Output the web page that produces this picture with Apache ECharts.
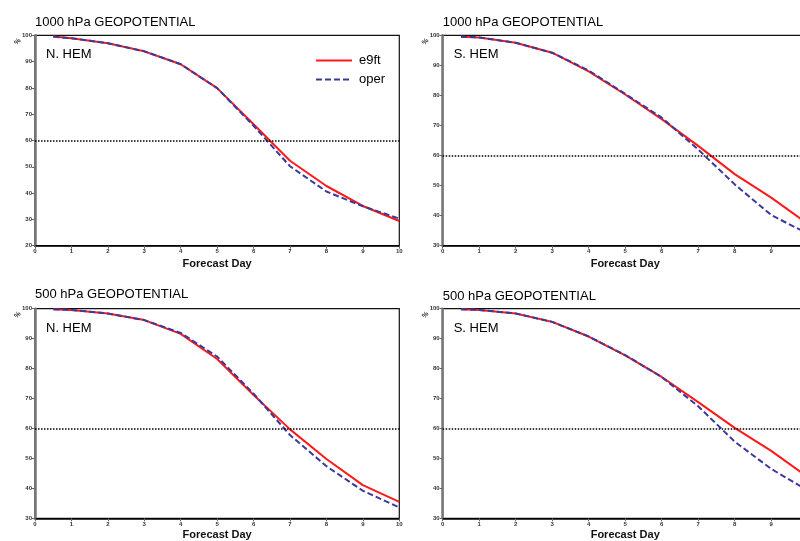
<!DOCTYPE html>
<html><head><meta charset="utf-8">
<script src="https://cdn.jsdelivr.net/npm/echarts@6/dist/echarts.min.js"></script>
<style>html,body{margin:0;padding:0;background:#fff}#c{width:800px;height:541px}</style>
</head><body><div id="c"></div>
<script>
const days = [0.5, 1, 2, 3, 4, 5, 6, 7, 8, 9, 10];
const panelTitles = ['1000 hPa GEOPOTENTIAL', '1000 hPa GEOPOTENTIAL', '500 hPa GEOPOTENTIAL', '500 hPa GEOPOTENTIAL'];
const regionLabels = ['N. HEM', 'S. HEM', 'N. HEM', 'S. HEM'];
const yMins = [20, 30, 30, 30];
const yMax = 100;
const refLevel = 60;
const xAxisName = 'Forecast Day';
const seriesNames = ['e9ft', 'oper'];

const n1000_e9ft = [99.5, 98.9, 97.0, 93.9, 89.0, 79.9, 66.2, 52.3, 42.7, 35.1, 29.4];
const n1000_oper = [99.5, 98.9, 97.0, 93.9, 89.0, 79.9, 65.6, 50.2, 40.6, 35.0, 30.3];
const s1000_e9ft = [99.5, 99.3, 97.5, 94.2, 88.0, 80.3, 72.1, 63.2, 53.8, 46.0, 37.3];
const s1000_oper = [99.5, 99.3, 97.5, 94.2, 88.3, 80.5, 72.6, 62.0, 50.4, 40.2, 34.0];
const n500_e9ft = [99.8, 99.6, 98.4, 96.2, 91.6, 83.2, 71.2, 59.7, 49.8, 41.1, 35.5];
const n500_oper = [99.8, 99.6, 98.4, 96.2, 91.9, 84.0, 71.6, 57.8, 47.4, 39.2, 33.6];
const s500_e9ft = [99.8, 99.6, 98.4, 95.6, 90.7, 84.4, 77.2, 68.8, 60.2, 52.5, 43.8];
const s500_oper = [99.8, 99.6, 98.4, 95.6, 90.7, 84.5, 77.2, 67.4, 55.6, 46.5, 39.3];

const e9ftData = [n1000_e9ft, s1000_e9ft, n500_e9ft, s500_e9ft];
const operData = [n1000_oper, s1000_oper, n500_oper, s500_oper];

const FONT = 'Liberation Sans, Arial, sans-serif';
const grids = [
  {left: 35, top: 35.3, width: 364.3, height: 210.4},
  {left: 442.7, top: 35.3, width: 365, height: 210.4},
  {left: 35, top: 308.7, width: 364.3, height: 209.6},
  {left: 442.7, top: 308.7, width: 365, height: 209.6}
];
const titleTops = [16, 16, 287.5, 289.5];
const nameGaps = [13, 13, 11, 11];

const option = {
  animation: false,
  backgroundColor: '#fff',
  textStyle: {fontFamily: FONT},
  title: panelTitles.map((t, i) => ({
    text: t, left: grids[i].left, top: titleTops[i], padding: 0,
    textStyle: {fontFamily: FONT, fontSize: 13, fontWeight: 'normal', color: '#000'}
  })),
  legend: {
    data: seriesNames, orient: 'vertical', left: 310, top: 49,
    itemWidth: 36, itemHeight: 10, itemGap: 6,
    itemStyle: {opacity: 0},
    textStyle: {fontFamily: FONT, fontSize: 13, color: '#000', padding: [0, 0, 0, 2]}
  },
  grid: grids.map(g => Object.assign({show: true, borderColor: '#111', borderWidth: 1.2, backgroundColor: 'transparent', outerBoundsMode: 'none', containLabel: false}, g)),
  xAxis: grids.map((g, i) => ({
    type: 'value', gridIndex: i, min: 0, max: 10, interval: 1,
    name: xAxisName, nameLocation: 'middle', nameGap: nameGaps[i],
    nameTextStyle: {fontFamily: FONT, fontSize: 11, fontWeight: 'bold', color: '#111'},
    axisLine: {lineStyle: {color: '#000', width: 1.5}},
    axisTick: {show: true, length: 3, lineStyle: {color: '#666', width: 1}},
    axisLabel: {fontSize: 6, fontWeight: 'bold', color: '#333', margin: 3},
    splitLine: {show: false}
  })),
  yAxis: grids.map((g, i) => ({
    type: 'value', gridIndex: i, min: yMins[i], max: yMax, interval: 10,
    axisLine: {show: true, lineStyle: {color: '#777', width: 2.5}},
    axisTick: {show: true, length: 3, lineStyle: {color: '#666', width: 1}},
    axisLabel: {fontSize: 6, fontWeight: 'bold', color: '#333', margin: 3},
    splitLine: {show: false}
  })),
  graphic: grids.map((g, i) => ([
    {type: 'text', left: g.left + 11, top: g.top + 13,
     style: {text: regionLabels[i], font: '13px ' + FONT, fill: '#000'}},
    {type: 'text', x: g.left - 22, y: g.top + 6, rotation: Math.PI / 4,
     style: {text: '%', font: 'bold 7px ' + FONT, fill: '#333'}}
  ])).flat(),
  series: []
};

for (let i = 0; i < 4; i++) {
  option.series.push({
    name: seriesNames[0], type: 'line', xAxisIndex: i, yAxisIndex: i,
    data: days.map((d, k) => [d, e9ftData[i][k]]),
    symbol: 'none', z: 3,
    lineStyle: {color: '#ff1a1a', width: 2},
    itemStyle: {color: '#ff1a1a'},
    markLine: {
      silent: true, symbol: 'none', label: {show: false},
      lineStyle: {color: '#000', type: [1.5, 1.5], width: 1.6},
      data: [{yAxis: refLevel}]
    }
  });
  option.series.push({
    name: seriesNames[1], type: 'line', xAxisIndex: i, yAxisIndex: i,
    data: days.map((d, k) => [d, operData[i][k]]),
    symbol: 'none', z: 4,
    lineStyle: {color: '#3a3a9e', width: 2, type: [6, 3]},
    itemStyle: {color: '#3a3a9e'}
  });
}

const chart = echarts.init(document.getElementById('c'), null, {renderer: 'canvas'});
chart.setOption(option);
</script></body></html>
